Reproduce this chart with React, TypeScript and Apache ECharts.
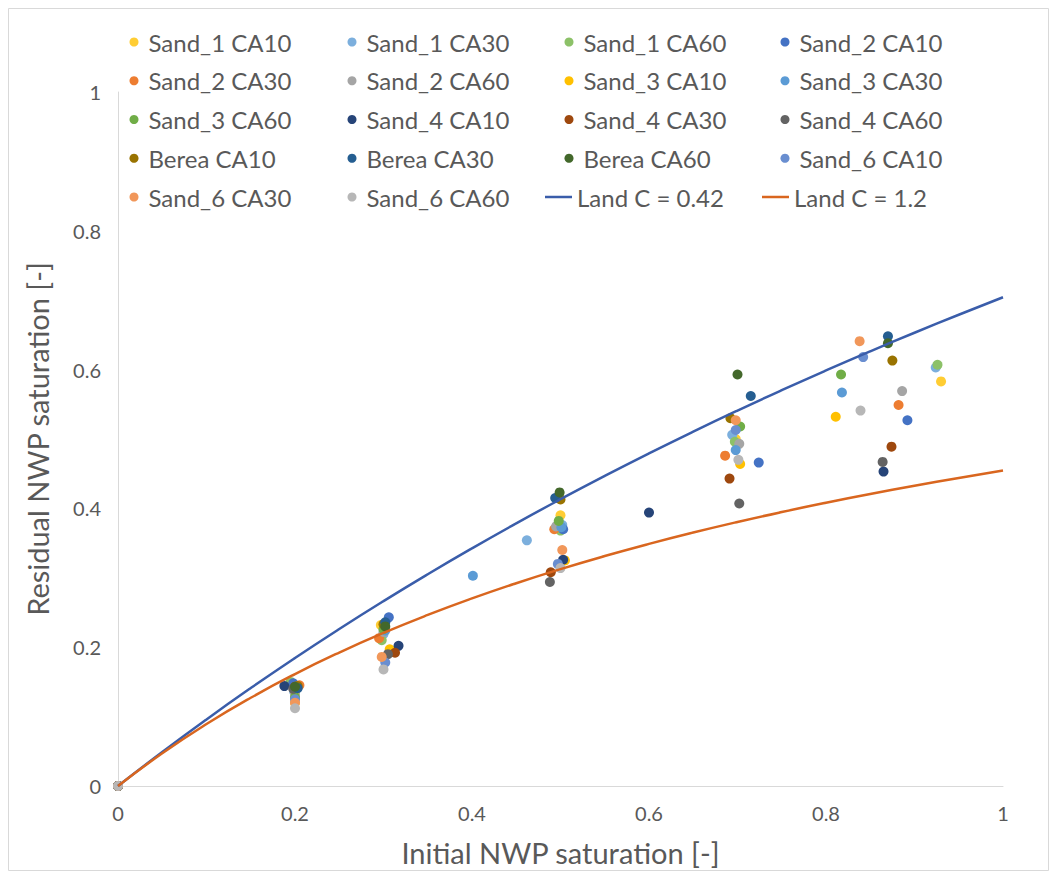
import React, { useEffect, useRef } from "react";
import * as echarts from "echarts";

// Measured points: [initial NWP saturation, residual NWP saturation]
const sand1CA10: [number, number][] = [[0, 0], [0.2, 0.12], [0.297, 0.232], [0.5, 0.39], [0.698, 0.5], [0.93, 0.583]];
const sand1CA30: [number, number][] = [[0, 0], [0.199, 0.136], [0.3, 0.219], [0.462, 0.354], [0.502, 0.376], [0.694, 0.506], [0.924, 0.603]];
const sand1CA60: [number, number][] = [[0, 0], [0.195, 0.15], [0.298, 0.21], [0.5, 0.368], [0.697, 0.496], [0.926, 0.607]];
const sand2CA10: [number, number][] = [[0, 0], [0.198, 0.148], [0.306, 0.243], [0.503, 0.37], [0.724, 0.466], [0.892, 0.527]];
const sand2CA30: [number, number][] = [[0, 0], [0.205, 0.145], [0.295, 0.213], [0.493, 0.37], [0.686, 0.476], [0.882, 0.549]];
const sand2CA60: [number, number][] = [[0, 0], [0.2, 0.133], [0.3, 0.222], [0.495, 0.374], [0.702, 0.493], [0.886, 0.569]];
const sand3CA10: [number, number][] = [[0, 0], [0.2, 0.138], [0.307, 0.197], [0.505, 0.325], [0.703, 0.464], [0.811, 0.532]];
const sand3CA30: [number, number][] = [[0, 0], [0.2, 0.14], [0.302, 0.224], [0.401, 0.303], [0.501, 0.373], [0.698, 0.484], [0.818, 0.567]];
const sand3CA60: [number, number][] = [[0, 0], [0.2, 0.128], [0.3, 0.226], [0.498, 0.382], [0.703, 0.518], [0.817, 0.593]];
const sand4CA10: [number, number][] = [[0, 0], [0.188, 0.144], [0.317, 0.202], [0.503, 0.326], [0.6, 0.394], [0.865, 0.453]];
const sand4CA30: [number, number][] = [[0, 0], [0.2, 0.143], [0.313, 0.192], [0.489, 0.308], [0.691, 0.443], [0.874, 0.489]];
const sand4CA60: [number, number][] = [[0, 0], [0.198, 0.14], [0.305, 0.19], [0.488, 0.294], [0.702, 0.407], [0.864, 0.467]];
const bereaCA10: [number, number][] = [[0, 0], [0.203, 0.144], [0.3, 0.233], [0.5, 0.413], [0.692, 0.53], [0.875, 0.613]];
const bereaCA30: [number, number][] = [[0, 0], [0.203, 0.141], [0.302, 0.236], [0.494, 0.415], [0.715, 0.562], [0.87, 0.648]];
const bereaCA60: [number, number][] = [[0, 0], [0.2, 0.143], [0.302, 0.23], [0.499, 0.423], [0.7, 0.593], [0.87, 0.638]];
const sand6CA10: [number, number][] = [[0, 0], [0.2, 0.125], [0.302, 0.178], [0.497, 0.32], [0.698, 0.513], [0.842, 0.618]];
const sand6CA30: [number, number][] = [[0, 0], [0.2, 0.12], [0.298, 0.186], [0.502, 0.34], [0.698, 0.527], [0.838, 0.641]];
const sand6CA60: [number, number][] = [[0, 0], [0.2, 0.112], [0.3, 0.168], [0.5, 0.314], [0.701, 0.47], [0.839, 0.541]];

const scatterNames = [
  "Sand_1 CA10", "Sand_1 CA30", "Sand_1 CA60",
  "Sand_2 CA10", "Sand_2 CA30", "Sand_2 CA60",
  "Sand_3 CA10", "Sand_3 CA30", "Sand_3 CA60",
  "Sand_4 CA10", "Sand_4 CA30", "Sand_4 CA60",
  "Berea CA10", "Berea CA30", "Berea CA60",
  "Sand_6 CA10", "Sand_6 CA30", "Sand_6 CA60",
];
const scatterData = [
  sand1CA10, sand1CA30, sand1CA60,
  sand2CA10, sand2CA30, sand2CA60,
  sand3CA10, sand3CA30, sand3CA60,
  sand4CA10, sand4CA30, sand4CA60,
  bereaCA10, bereaCA30, bereaCA60,
  sand6CA10, sand6CA30, sand6CA60,
];
const scatterColors = [
  "#FFCD33", "#7CAFDD", "#8CC168",
  "#4472C4", "#ED7D31", "#A5A5A5",
  "#FFC000", "#5B9BD5", "#70AD47",
  "#264478", "#9E480E", "#636363",
  "#997300", "#255E91", "#43682B",
  "#698ED0", "#F1975A", "#B7B7B7",
];

// Land trapping model: Sr = Si / (1 + C * Si)
const landNames = ["Land C = 0.42", "Land C = 1.2"];
const landC = [0.42, 1.2];
const landColors = ["#3A5DAA", "#D9661F"];
const landSi = [0, 0.05, 0.1, 0.15, 0.2, 0.25, 0.3, 0.35, 0.4, 0.45, 0.5, 0.55, 0.6, 0.65, 0.7, 0.75, 0.8, 0.85, 0.9, 0.95, 1];

const xTicks = [0, 0.2, 0.4, 0.6, 0.8, 1];

// Legend columns, top to bottom
const legendColumns = [
  ["Sand_1 CA10", "Sand_2 CA30", "Sand_3 CA60", "Berea CA10", "Sand_6 CA30"],
  ["Sand_1 CA30", "Sand_2 CA60", "Sand_4 CA10", "Berea CA30", "Sand_6 CA60"],
  ["Sand_1 CA60", "Sand_3 CA10", "Sand_4 CA30", "Berea CA60"],
  ["Sand_2 CA10", "Sand_3 CA30", "Sand_4 CA60", "Sand_6 CA10"],
];
const legendMarkerX = [134, 352, 569, 785];
const lineLegendX = [545, 762];

export default function App() {
  const ref = useRef<HTMLDivElement>(null);

  useEffect(() => {
    if (!ref.current) return;
    const chart = echarts.init(ref.current, undefined, { renderer: "svg" });
    const font = "Lato, 'Open Sans', sans-serif";
    const textColor = "#595959";

    const rowTop = 27;
    const rowStep = 38.75;
    const lineH = 30;
    const legendFont = 24;

    const legends: any[] = legendColumns.map((col, i) => ({
      data: col.map((n) => ({ name: n, icon: "circle" })),
      orient: "vertical",
      left: legendMarkerX[i] - 4.5,
      top: rowTop,
      padding: 0,
      itemWidth: 19,
      itemHeight: 9,
      itemGap: rowStep - lineH,
      selectedMode: false,
      textStyle: { fontFamily: font, fontSize: legendFont, color: textColor, lineHeight: lineH },
    }));
    landNames.forEach((n, i) => {
      legends.push({
        data: [{ name: n, icon: "rect" }],
        left: lineLegendX[i],
        top: rowTop + rowStep * 4,
        padding: 0,
        itemWidth: 27,
        itemHeight: 2.5,
        selectedMode: false,
        textStyle: { fontFamily: font, fontSize: legendFont, color: textColor, lineHeight: lineH },
      });
    });

    const series: any[] = scatterNames.map((name, i) => ({
      name,
      type: "scatter",
      data: scatterData[i],
      symbol: "circle",
      symbolSize: 10,
      itemStyle: { color: scatterColors[i], opacity: 1 },
    }));
    landNames.forEach((name, i) => {
      series.push({
        name,
        type: "line",
        data: landSi.map((s) => [s, s / (1 + landC[i] * s)]),
        smooth: true,
        symbol: "none",
        lineStyle: { color: landColors[i], width: 2.5 },
        itemStyle: { color: landColors[i] },
        z: 3,
      });
    });

    chart.setOption({
      animation: false,
      backgroundColor: "#ffffff",
      grid: { left: 118, top: 92, width: 885, height: 698, containLabel: false },
      legend: legends,
      xAxis: {
        type: "value",
        min: 0,
        max: 1,
        interval: 0.2,
        name: "Initial NWP saturation [-]",
        nameLocation: "middle",
        nameGap: 52,
        nameTextStyle: { fontFamily: font, fontSize: 29, color: textColor },
        axisLine: { show: true, lineStyle: { color: "#D9D9D9", width: 1 } },
        axisTick: { show: false },
        splitLine: { show: false },
        axisLabel: {
          fontFamily: font,
          fontSize: 20,
          color: textColor,
          margin: 17,
          formatter: (v: number) => String(xTicks.find((t) => Math.abs(t - v) < 1e-9) ?? v),
        },
      },
      yAxis: {
        type: "value",
        min: 0,
        max: 1,
        interval: 0.2,
        name: "Residual NWP saturation [-]",
        nameLocation: "middle",
        nameGap: 66,
        nameTextStyle: { fontFamily: font, fontSize: 29, color: textColor },
        axisLine: { show: true, lineStyle: { color: "#D9D9D9", width: 1 } },
        axisTick: { show: false },
        splitLine: { show: false },
        axisLabel: { fontFamily: font, fontSize: 20, color: textColor, margin: 17 },
      },
      graphic: [
        {
          type: "rect",
          silent: true,
          shape: { x: 8.5, y: 8.5, width: 1040, height: 862 },
          style: { fill: "none", stroke: "#D9D9D9", lineWidth: 1 },
        },
      ],
      series,
    });

    return () => chart.dispose();
  }, []);

  return (
    <div
      ref={ref}
      style={{ position: "fixed", left: 0, top: 0, width: 1049, height: 872, background: "#fff" }}
    />
  );
}
